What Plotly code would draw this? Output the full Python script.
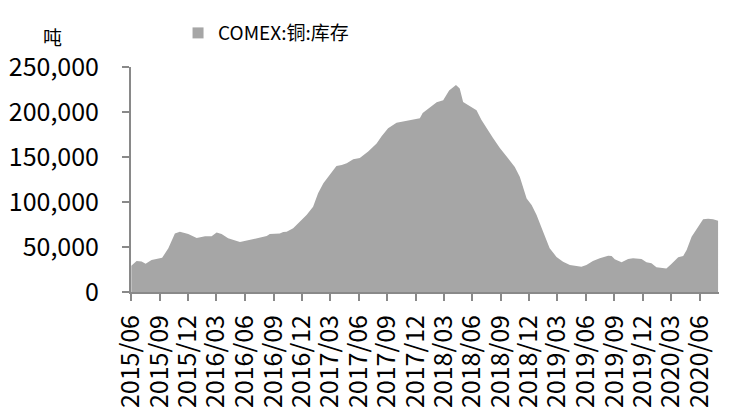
"""COMEX copper inventory area chart."""

import plotly.graph_objects as go

dates = [
    "2015-06-02", "2015-06-19", "2015-07-05", "2015-07-18", "2015-08-06",
    "2015-08-28", "2015-09-09", "2015-09-29", "2015-10-20", "2015-11-05",
    "2015-12-02", "2015-12-29", "2016-01-25", "2016-02-15", "2016-03-02",
    "2016-03-18", "2016-04-08", "2016-05-16", "2016-06-12", "2016-07-14",
    "2016-08-10", "2016-08-20", "2016-09-21", "2016-10-02", "2016-10-13",
    "2016-11-03", "2016-11-25", "2016-12-16", "2017-01-06", "2017-01-22",
    "2017-02-08", "2017-03-01", "2017-03-22", "2017-04-08", "2017-04-24",
    "2017-05-15", "2017-06-05", "2017-07-02", "2017-07-29", "2017-08-14",
    "2017-09-04", "2017-10-01", "2017-10-28", "2017-11-29", "2017-12-15",
    "2017-12-24", "2018-01-11", "2018-02-07", "2018-02-28", "2018-03-19",
    "2018-04-10", "2018-04-22", "2018-05-03", "2018-05-19", "2018-06-15",
    "2018-07-01", "2018-07-17", "2018-08-07", "2018-08-29", "2018-09-25",
    "2018-10-16", "2018-11-01", "2018-11-23", "2018-12-09", "2018-12-25",
    "2019-01-15", "2019-02-05", "2019-02-27", "2019-03-20", "2019-04-11",
    "2019-05-02", "2019-05-18", "2019-06-03", "2019-06-24", "2019-07-16",
    "2019-08-12", "2019-08-23", "2019-09-02", "2019-09-24", "2019-10-15",
    "2019-10-31", "2019-11-27", "2019-12-13", "2019-12-29", "2020-01-14",
    "2020-02-15", "2020-03-02", "2020-03-24", "2020-04-09", "2020-04-20",
    "2020-05-06", "2020-05-22", "2020-06-12", "2020-06-28", "2020-07-14",
    "2020-07-30",
]
stock = [
    29200, 34400, 34000, 31500, 35500,
    37400, 38000, 48500, 65000, 67000,
    64400, 60000, 61900, 62000, 66000,
    64400, 59600, 55500, 57800, 60700,
    62200, 64400, 65000, 66600, 67000,
    70700, 78000, 85500, 94800, 109600,
    120800, 130000, 140000, 141000, 143000,
    147400, 149000, 156000, 165000, 173000,
    182000, 188000, 190000, 192000, 193000,
    199000, 204000, 210700, 213000, 224000,
    230000, 226000, 211000, 208000, 202000,
    191000, 182000, 171000, 160000, 148500,
    139000, 128000, 104000, 96700, 85500,
    67000, 48500, 39000, 33700, 30000,
    29300, 28000, 30000, 34400, 37400,
    40400, 40000, 36300, 33000, 36700,
    37400, 36700, 33000, 32000, 27400,
    26000, 31000, 38500, 40000, 46700,
    61500, 69700, 80800, 81500, 80800,
    79200,
]
tick_dates = [
    "2015-06-01", "2015-09-01", "2015-12-01", "2016-03-01", "2016-06-01",
    "2016-09-01", "2016-12-01", "2017-03-01", "2017-06-01", "2017-09-01",
    "2017-12-01", "2018-03-01", "2018-06-01", "2018-09-01", "2018-12-01",
    "2019-03-01", "2019-06-01", "2019-09-01", "2019-12-01", "2020-03-01",
    "2020-06-01",
]
tick_text = [d[:7].replace("-", "/") for d in tick_dates]

FONT = "Noto Sans CJK SC, sans-serif"
AXIS = "#898989"
GREY = "#a6a6a6"

fig = go.Figure()
fig.add_scatter(
    x=dates,
    y=stock,
    mode="lines",
    line=dict(width=0, color=GREY),
    fill="tozeroy",
    fillcolor=GREY,
    showlegend=False,
)
# legend entry drawn as a small square like the original
fig.add_scatter(
    x=[None],
    y=[None],
    name="COMEX:铜:库存",
    mode="markers",
    marker=dict(symbol="square", size=11, color=GREY),
)
# page body adds an 8px margin, so the figure is 8px smaller than the window
fig.update_layout(
    width=724,
    height=404,
    paper_bgcolor="white",
    plot_bgcolor="white",
    font=dict(family=FONT, color="#000000", size=22),
    margin=dict(l=123, r=13, t=59, b=120),
    showlegend=True,
    legend=dict(
        orientation="h", x=0.08, xanchor="left",
        yref="container", y=0.985, yanchor="top",
        font=dict(size=19), itemwidth=30,
    ),
    xaxis=dict(
        type="date",
        range=["2015-06-01", "2020-08-02"],
        tickvals=tick_dates,
        ticktext=tick_text,
        tickangle=-90,
        showgrid=False,
        showline=True,
        linecolor=AXIS,
        linewidth=2,
        ticks="outside",
        tickcolor=AXIS,
        tickwidth=2,
        ticklen=7,
        tickfont=dict(size=25),
        ticklabelstandoff=4,
        automargin=False,
    ),
    yaxis=dict(
        range=[0, 250000],
        dtick=50000,
        tickformat=",d",
        showgrid=False,
        showline=True,
        linecolor=AXIS,
        linewidth=2,
        ticks="outside",
        tickcolor=AXIS,
        tickwidth=2,
        ticklen=7,
        tickfont=dict(size=25),
        ticklabelstandoff=18,
        zeroline=False,
        automargin=False,
    ),
)
fig.add_annotation(
    text="吨", xref="paper", yref="paper", x=-0.133, y=1.135,
    xanchor="center", yanchor="middle",
    showarrow=False, font=dict(size=19),
)
fig.write_html("out.html")
